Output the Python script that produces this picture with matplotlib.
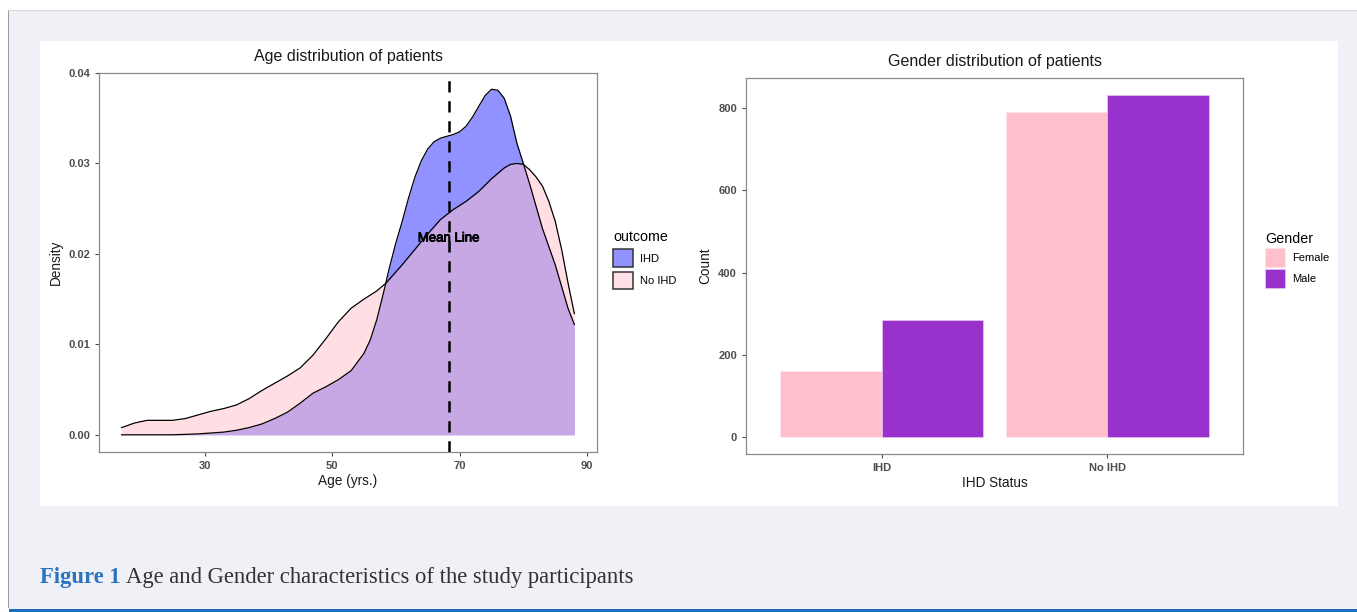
import numpy as np
import matplotlib
matplotlib.use("Agg")
import matplotlib.pyplot as plt
from matplotlib.patches import Rectangle, Patch
import matplotlib.patheffects as pe

# age density per outcome group (age in years, density)
age_ihd = [17, 21, 25, 27, 29, 31, 33, 35, 37, 39, 41, 43, 45, 47, 49, 51, 53, 55,
           56, 57, 58, 59, 60, 61, 62, 63, 64, 65, 66, 67, 68, 69, 70, 71, 72, 73,
           74, 75, 76, 77, 78, 79, 80, 81, 83, 85, 87, 88]
dens_ihd = [0.0, 0.0, 0.0, 0.00005, 0.0001, 0.0002, 0.0003, 0.0005, 0.0008, 0.0012,
            0.0018, 0.0025, 0.0035, 0.0046, 0.0053, 0.0061, 0.0071, 0.0090,
            0.0105, 0.0127, 0.0155, 0.0185, 0.0212, 0.0236, 0.0262, 0.0285, 0.0303,
            0.0316, 0.0324, 0.0328, 0.0330, 0.0332, 0.0335, 0.0341, 0.0351, 0.0363,
            0.0375, 0.0382, 0.0381, 0.0372, 0.0352, 0.0322, 0.0300, 0.0277, 0.0228,
            0.0188, 0.0140, 0.0122]

age_no_ihd = [17, 19, 21, 23, 25, 27, 29, 31, 33, 35, 37, 39, 41, 43, 45, 47, 49, 51,
              53, 55, 57, 58.5, 59, 61, 63, 65, 67, 69, 71, 73, 75, 77, 78, 79, 80,
              81, 82, 83, 84, 85, 86, 87, 88]
dens_no_ihd = [0.0008, 0.0013, 0.0016, 0.0016, 0.0016, 0.0018, 0.0022, 0.0026, 0.0029,
               0.0033, 0.0040, 0.0049, 0.0057, 0.0065, 0.0074, 0.0088, 0.0106, 0.0125,
               0.0140, 0.0150, 0.0159, 0.0168, 0.0172, 0.0188, 0.0205, 0.0222, 0.0238,
               0.0249, 0.0258, 0.0269, 0.0283, 0.0295, 0.0299, 0.0300, 0.0299, 0.0293,
               0.0285, 0.0275, 0.0258, 0.0236, 0.0205, 0.0168, 0.0134]
mean_age = 68.3

# gender counts per IHD status
status = ["IHD", "No IHD"]
female = [160, 792]
male = [285, 832]

plt.rcParams["font.family"] = ["Liberation Sans", "DejaVu Sans"]

fig = plt.figure(figsize=(13.57, 6.12), dpi=100)
fig.patch.set_facecolor("white")

W, H = 1357, 612
def fx(px):
    return px / W
def fy(py):
    return 1 - py / H

# page background, borders and white figure panel
fig.patches.append(Rectangle((fx(9), fy(609)), 1 - fx(9), fy(10) - fy(609),
                             transform=fig.transFigure, facecolor="#f0f1f6",
                             edgecolor="none", zorder=-10))
fig.patches.append(Rectangle((fx(8), fy(608)), fx(1.2), fy(10) - fy(608),
                             transform=fig.transFigure, facecolor="#9a9aa0",
                             edgecolor="none", zorder=-9))
fig.patches.append(Rectangle((fx(8), fy(11)), 1 - fx(8), fy(10) - fy(11),
                             transform=fig.transFigure, facecolor="#d9d9de",
                             edgecolor="none", zorder=-9))
fig.patches.append(Rectangle((fx(9), 0), 1 - fx(9), fy(608.5),
                             transform=fig.transFigure, facecolor="#1a6fbf",
                             edgecolor="none", zorder=-9))
fig.patches.append(Rectangle((fx(40), fy(506)), fx(1338) - fx(40), fy(41) - fy(506),
                             transform=fig.transFigure, facecolor="white",
                             edgecolor="none", zorder=-8))

tick_kw = dict(labelsize=8, labelcolor="#4d4d4d", color="#4d4d4d", length=3, width=0.8)


def style_axes(ax):
    for s in ax.spines.values():
        s.set_color("#8a8a8a")
        s.set_linewidth(0.9)
    ax.tick_params(**tick_kw)
    for lab in ax.get_xticklabels() + ax.get_yticklabels():
        lab.set_fontweight("bold")


# left: age density
ax1 = fig.add_axes([fx(99), fy(452), fx(597) - fx(99), fy(73) - fy(452)])
ax1.fill_between(age_ihd, dens_ihd, color="blue", alpha=0.43, linewidth=0)
ax1.plot(age_ihd, dens_ihd, color="black", lw=0.9)
ax1.fill_between(age_no_ihd, dens_no_ihd, color="pink", alpha=0.5, linewidth=0)
ax1.plot(age_no_ihd, dens_no_ihd, color="black", lw=0.9)
ax1.axvline(mean_age, color="black", lw=1.8, ls=(0, (4.5, 3.5)))
ax1.text(mean_age, 0.0217, "Mean Line", ha="center", va="center", fontsize=9.5,
         color="black", path_effects=[pe.withStroke(linewidth=0.6, foreground="black")])
ax1.set_xlim(13.45, 91.55)
ax1.set_ylim(-0.0019, 0.0400)
ax1.set_xticks([30, 50, 70, 90])
ax1.set_yticks([0.00, 0.01, 0.02, 0.03, 0.04])
ax1.set_yticklabels(["0.00", "0.01", "0.02", "0.03", "0.04"])
style_axes(ax1)
ax1.set_title("Age distribution of patients", fontsize=11.5, pad=8.5, color="#1a1a1a")
ax1.set_xlabel("Age (yrs.)", fontsize=9.8, labelpad=2, color="#1a1a1a")
ax1.set_ylabel("Density", fontsize=9.8, labelpad=4, color="#1a1a1a")

h1 = [Patch(facecolor=(0.57, 0.57, 1.0), edgecolor="#333333", lw=1.1, label="IHD"),
      Patch(facecolor=(1.0, 0.88, 0.9), edgecolor="#333333", lw=1.1, label="No IHD")]
leg1 = ax1.legend(handles=h1, title="outcome", loc="upper left",
                  bbox_to_anchor=(fx(609), fy(226)), bbox_transform=fig.transFigure,
                  frameon=False, fontsize=8, title_fontsize=10.3, handlelength=1.8,
                  handleheight=2.0, labelspacing=0.45, handletextpad=0.55,
                  borderaxespad=0)
leg1._legend_box.align = "left"

# right: gender counts
ax2 = fig.add_axes([fx(746), fy(454), fx(1243) - fx(746), fy(78) - fy(454)])
x = np.arange(len(status))
ax2.bar(x - 0.225, female, width=0.45, color="pink", edgecolor="#ffe6f0", lw=0.5,
        label="Female")
ax2.bar(x + 0.225, male, width=0.45, color="darkorchid", edgecolor="#e8c8f0", lw=0.5,
        label="Male")
ax2.set_xlim(-0.6, 1.6)
ax2.set_ylim(-41.6, 873.6)
ax2.set_xticks(x)
ax2.set_xticklabels(status)
ax2.set_yticks([0, 200, 400, 600, 800])
style_axes(ax2)
ax2.set_title("Gender distribution of patients", fontsize=11.5, pad=8.5, color="#1a1a1a")
ax2.set_xlabel("IHD Status", fontsize=9.8, labelpad=2, color="#1a1a1a")
ax2.set_ylabel("Count", fontsize=9.8, labelpad=4, color="#1a1a1a")

leg2 = ax2.legend(title="Gender", loc="upper left",
                  bbox_to_anchor=(fx(1261), fy(228)), bbox_transform=fig.transFigure,
                  frameon=False, fontsize=8, title_fontsize=10.3, handlelength=1.8,
                  handleheight=2.25, labelspacing=0.18, handletextpad=0.6,
                  borderaxespad=0)
leg2._legend_box.align = "left"

# figure caption
cap_y = fy(578)
t = fig.text(fx(40), cap_y, "Figure 1", fontsize=16.3, fontweight="bold",
             color="#2a73c0", family=["Liberation Serif"], va="center", ha="left")
fig.canvas.draw()
bb = t.get_window_extent()
fig.text(bb.x1 / W + fx(5), cap_y, "Age and Gender characteristics of the study participants",
         fontsize=16.3, color="#333333", family=["Liberation Serif"], va="center", ha="left")

fig.savefig("out.png", dpi=100)
